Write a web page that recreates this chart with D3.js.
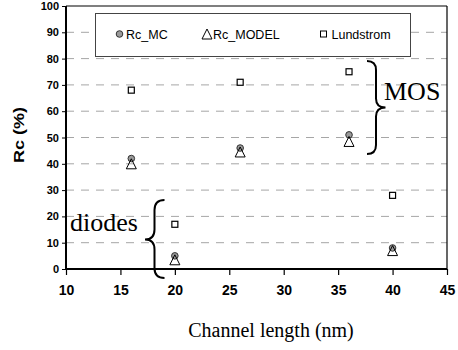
<!DOCTYPE html>
<html><head><meta charset="utf-8">
<script src="https://cdn.jsdelivr.net/npm/d3@7"></script>
<style>html,body{margin:0;padding:0;background:#fff;}svg{display:block;}</style>
</head><body>
<script>
const channelLength = [16, 20, 26, 36, 40];
const rcMC = [42, 5, 46, 51, 8];
const rcModel = [40, 3.5, 44.5, 48.5, 7];
const lundstrom = [68, 17, 71, 75, 28];
const xTicks = [10, 15, 20, 25, 30, 35, 40, 45];
const yTicks = [0, 10, 20, 30, 40, 50, 60, 70, 80, 90, 100];
const seriesNames = ["Rc_MC", "Rc_MODEL", "Lundstrom"];

const W = 458, H = 350;
const svg = d3.select("body").append("svg").attr("width", W).attr("height", H);
const x = d3.scaleLinear().domain([10, 45]).range([66, 447]);
const y = d3.scaleLinear().domain([0, 100]).range([269, 6]);
const sans = "'Liberation Sans', Arial, sans-serif";
const serif = "'Liberation Serif', 'Times New Roman', serif";

// gridlines
svg.append("g").selectAll("line").data(yTicks.filter(d => d > 0 && d < 100)).join("line")
  .attr("x1", x(10)).attr("x2", x(45)).attr("y1", d => y(d)).attr("y2", d => y(d))
  .attr("stroke", "#a6a6a6").attr("stroke-width", 1).attr("stroke-dasharray", "8,7");

// frame top/right
svg.append("line").attr("x1", x(10)).attr("x2", x(45)).attr("y1", y(100)).attr("y2", y(100)).attr("stroke", "#000").attr("stroke-width", 1.2);
svg.append("line").attr("x1", x(45)).attr("x2", x(45)).attr("y1", y(100)).attr("y2", y(0)).attr("stroke", "#000").attr("stroke-width", 1.2);

// axes
const xAxis = d3.axisBottom(x).tickValues(xTicks).tickSize(6).tickPadding(10).tickFormat(d3.format("d"));
const gx = svg.append("g").attr("transform", `translate(0,${y(0)})`).call(xAxis)
  .attr("font-family", sans).attr("font-weight", 700).attr("font-size", 14);
gx.select(".domain").attr("stroke-width", 2).attr("d", `M${x(10)},0H${x(45)}`);
gx.selectAll(".tick line").attr("stroke-width", 1.2);
gx.selectAll("text").attr("fill", "#000").attr("font-weight", 700);

const yAxis = d3.axisLeft(y).tickValues(yTicks).tickSize(4).tickPadding(3).tickFormat(d3.format("d"));
const gy = svg.append("g").attr("transform", `translate(${x(10)},0)`).call(yAxis)
  .attr("font-family", sans).attr("font-weight", 700).attr("font-size", 11);
gy.select(".domain").attr("stroke-width", 2).attr("d", `M0,${y(0)}V${y(100)}`);
gy.selectAll("text").attr("fill", "#000").attr("font-weight", 700);

// markers
const tri = (cx, cy, w, h) => `M${cx},${cy - h / 2}L${cx + w / 2},${cy + h / 2}L${cx - w / 2},${cy + h / 2}Z`;
svg.append("g").selectAll("circle").data(channelLength).join("circle")
  .attr("cx", d => x(d)).attr("cy", (d, i) => y(rcMC[i])).attr("r", 3.3)
  .attr("fill", "#9a9a9a").attr("stroke", "#333").attr("stroke-width", 1);
svg.append("g").selectAll("path").data(channelLength).join("path")
  .attr("d", (d, i) => tri(x(d), y(rcModel[i]), 10, 10))
  .attr("fill", "none").attr("stroke", "#000").attr("stroke-width", 1);
svg.append("g").selectAll("rect").data(channelLength).join("rect")
  .attr("x", d => x(d) - 3).attr("y", (d, i) => y(lundstrom[i]) - 3).attr("width", 6).attr("height", 6)
  .attr("fill", "#fff").attr("stroke", "#000").attr("stroke-width", 1.2);

// legend
const lg = svg.append("g");
lg.append("rect").attr("x", 95.5).attr("y", 13.5).attr("width", 315).attr("height", 43)
  .attr("fill", "#fff").attr("stroke", "#444").attr("stroke-width", 1);
lg.append("circle").attr("cx", 119.5).attr("cy", 34).attr("r", 3.3).attr("fill", "#9a9a9a").attr("stroke", "#333");
lg.append("text").attr("x", 126).attr("y", 38.5).text(seriesNames[0]).attr("font-family", sans).attr("font-size", 12.5);
lg.append("path").attr("d", tri(207, 34, 10, 10)).attr("fill", "none").attr("stroke", "#000");
lg.append("text").attr("x", 213).attr("y", 38.5).text(seriesNames[1]).attr("font-family", sans).attr("font-size", 12.5);
lg.append("rect").attr("x", 320.5).attr("y", 31).attr("width", 6).attr("height", 6).attr("fill", "#fff").attr("stroke", "#000");
lg.append("text").attr("x", 331.5).attr("y", 38.5).text(seriesNames[2]).attr("font-family", sans).attr("font-size", 12.5);

// braces
function braceRight(xv, y0, y1, ym, xt, w) {
  return `M${xv - w},${y0}Q${xv},${y0} ${xv},${y0 + w}L${xv},${ym - w}Q${xv},${ym} ${xt},${ym}Q${xv},${ym} ${xv},${ym + w}L${xv},${y1 - w}Q${xv},${y1} ${xv - w},${y1}`;
}
function braceLeft(xv, y0, y1, ym, xt, w) {
  return `M${xv + w},${y0}Q${xv},${y0} ${xv},${y0 + w}L${xv},${ym - w}Q${xv},${ym} ${xt},${ym}Q${xv},${ym} ${xv},${ym + w}L${xv},${y1 - w}Q${xv},${y1} ${xv + w},${y1}`;
}
svg.append("path").attr("d", braceRight(376, 61, 154, 107.5, 385.5, 9)).attr("fill", "none").attr("stroke", "#000").attr("stroke-width", 2);
svg.append("path").attr("d", braceLeft(154.5, 200, 278, 239.5, 145, 10)).attr("fill", "none").attr("stroke", "#000").attr("stroke-width", 2);
svg.append("text").attr("x", 384).attr("y", 100).text("MOS").attr("font-family", serif).attr("font-size", 26);
svg.append("text").attr("x", 70).attr("y", 231).text("diodes").attr("font-family", serif).attr("font-size", 26);

// axis titles
svg.append("text").attr("x", 271).attr("y", 337).attr("text-anchor", "middle").text("Channel length (nm)")
  .attr("font-family", serif).attr("font-size", 20);
svg.append("text").attr("transform", "translate(24,135) rotate(-90)").attr("text-anchor", "middle").text("Rc (%)")
  .attr("textLength", 56).attr("lengthAdjust", "spacingAndGlyphs")
  .attr("font-family", sans).attr("font-weight", 700).attr("font-size", 15);
</script>
</body></html>
